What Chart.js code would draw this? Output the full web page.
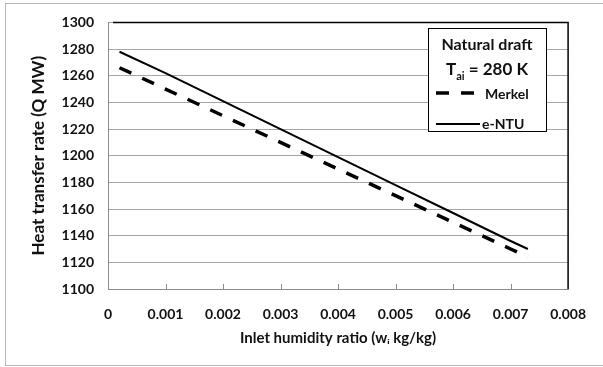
<!DOCTYPE html>
<html>
<head>
<meta charset="utf-8">
<script src="https://cdn.jsdelivr.net/npm/chart.js@4"></script>
<style>
  body { margin: 0; background: #fff; }
  #chart { display: block; }
</style>
</head>
<body>
<canvas id="chart" width="603" height="367"></canvas>
<script>
// data
const humidityX = [0.0002, 0.001, 0.002, 0.003, 0.004, 0.005, 0.006, 0.007, 0.0073];
const merkelQ = [1266, 1250, 1230, 1210, 1190, 1170, 1150, 1130, 1124];
const entuQ = [1278, 1262, 1241, 1220, 1199, 1178, 1157, 1136, 1130];

const xTicks = [0, 0.001, 0.002, 0.003, 0.004, 0.005, 0.006, 0.007, 0.008];
const yMin = 1100, yMax = 1300, yStep = 20;

const FONT = "Lato, 'Open Sans', sans-serif";
const TEXT = "#111";

function toPoints(xs, ys) {
  return xs.map((x, i) => ({ x: x, y: ys[i] }));
}

// frame, inner tick marks, top/right border and the legend box
const extras = {
  id: 'extras',
  afterDraw(chart) {
    const ctx = chart.ctx;
    const a = chart.chartArea;
    const xs = chart.scales.x;
    ctx.save();

    // outer frame
    ctx.strokeStyle = '#b8b8b8';
    ctx.lineWidth = 1;
    ctx.strokeRect(5.5, 3.5, 620, 362);

    // tick marks pointing up into the plot
    ctx.strokeStyle = '#8c8c8c';
    ctx.beginPath();
    xTicks.slice(1, -1).forEach(v => {
      const px = Math.round(xs.getPixelForValue(v)) + 0.5;
      ctx.moveTo(px, a.bottom);
      ctx.lineTo(px, a.bottom - 5);
    });
    ctx.stroke();

    // black top and right border
    ctx.strokeStyle = '#000';
    ctx.lineWidth = 1.5;
    ctx.beginPath();
    ctx.moveTo(a.left + 5, a.top);
    ctx.lineTo(a.right, a.top);
    ctx.lineTo(a.right, a.bottom);
    ctx.stroke();

    // legend box
    const bx = 428.5, by = 28.5, bw = 118, bh = 103;
    ctx.fillStyle = '#fff';
    ctx.fillRect(bx, by, bw, bh);
    ctx.strokeStyle = '#000';
    ctx.lineWidth = 1;
    ctx.strokeRect(bx, by, bw, bh);

    ctx.fillStyle = TEXT;
    ctx.textBaseline = 'middle';
    ctx.textAlign = 'center';
    ctx.font = "bold 16px " + FONT;
    ctx.fillText('Natural draft', 487, 45);

    // T_ai = 280 K with subscript
    ctx.textAlign = 'left';
    const big = "bold 17px " + FONT, small = "bold 11px " + FONT;
    ctx.font = big;
    const wT = ctx.measureText('T').width;
    const rest = ' = 280 K';
    const wRest = ctx.measureText(rest).width;
    ctx.font = small;
    const wSub = ctx.measureText('ai').width;
    let sx = 487 - (wT + wSub + wRest) / 2;
    ctx.font = big;
    ctx.fillText('T', sx, 70);
    ctx.font = small;
    ctx.fillText('ai', sx + wT, 76);
    ctx.font = big;
    ctx.fillText(rest, sx + wT + wSub, 70);

    // series samples
    ctx.strokeStyle = '#000';
    ctx.lineWidth = 3.5;
    ctx.setLineDash([13, 12]);
    ctx.beginPath();
    ctx.moveTo(436, 93);
    ctx.lineTo(477, 93);
    ctx.stroke();
    ctx.setLineDash([]);
    ctx.lineWidth = 2;
    ctx.beginPath();
    ctx.moveTo(436, 124);
    ctx.lineTo(480, 124);
    ctx.stroke();

    ctx.font = "bold 14px " + FONT;
    ctx.fillText('Merkel', 485, 94);
    ctx.fillText('e-NTU', 482, 124);

    ctx.restore();
  }
};

new Chart(document.getElementById('chart'), {
  type: 'scatter',
  data: {
    datasets: [
      {
        label: 'Merkel',
        data: toPoints(humidityX, merkelQ),
        showLine: true,
        borderColor: '#000',
        borderWidth: 3.5,
        borderDash: [13, 12],
        pointRadius: 0,
        tension: 0
      },
      {
        label: 'e-NTU',
        data: toPoints(humidityX, entuQ),
        showLine: true,
        borderColor: '#000',
        borderWidth: 2,
        pointRadius: 0,
        tension: 0
      }
    ]
  },
  options: {
    responsive: false,
    animation: false,
    layout: { padding: { left: 0, top: 21, right: 34, bottom: 0 } },
    plugins: {
      legend: { display: false },
      tooltip: { enabled: false }
    },
    scales: {
      x: {
        type: 'linear',
        min: 0,
        max: 0.008,
        afterFit(scale) { scale.height = 78; },
        afterBuildTicks(scale) { scale.ticks = xTicks.map(v => ({ value: v })); },
        grid: { display: false, drawTicks: false },
        border: { display: true, color: '#8c8c8c', width: 1 },
        ticks: {
          padding: 17,
          color: TEXT,
          font: { family: FONT, size: 14, weight: 'bold' },
          maxRotation: 0,
          callback: v => v === 0 ? '0' : v.toFixed(3)
        },
        title: {
          display: true,
          text: 'Inlet humidity ratio (wᵢ kg/kg)',
          color: TEXT,
          font: { family: FONT, size: 15, weight: 'bold' },
          padding: { top: 0, bottom: 20 }
        }
      },
      y: {
        min: yMin,
        max: yMax,
        afterFit(scale) { scale.width = 108; },
        ticks: {
          stepSize: yStep,
          padding: 14,
          color: TEXT,
          font: { family: FONT, size: 14, weight: 'bold' },
          callback: v => String(v)
        },
        grid: { color: '#a6a6a6', lineWidth: 1, drawTicks: false },
        border: { display: true, color: '#8c8c8c', width: 1 },
        title: {
          display: true,
          text: 'Heat transfer rate (Q MW)',
          color: TEXT,
          font: { family: FONT, size: 17, weight: 'bold' },
          padding: { top: 28, bottom: 0 }
        }
      }
    }
  },
  plugins: [extras]
});
</script>
</body>
</html>
